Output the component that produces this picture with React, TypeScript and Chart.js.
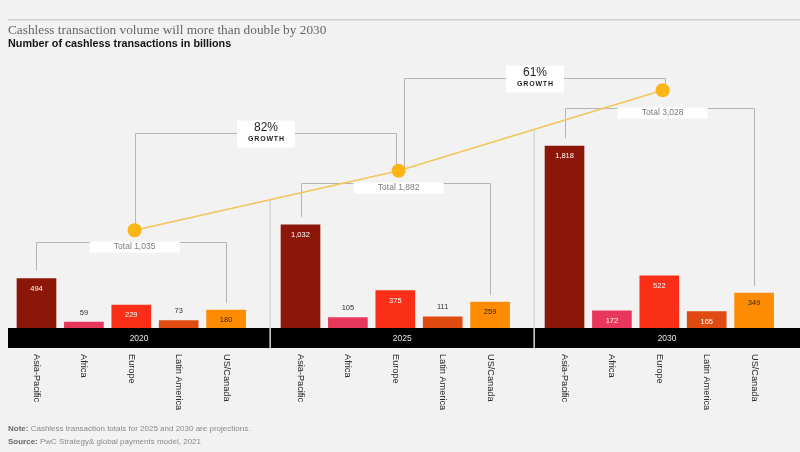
import React, { useEffect, useRef } from 'react';
import { Chart, registerables } from 'chart.js';

Chart.register(...registerables);

// ---- data ----
const years = ['2020', '2025', '2030'];
const regions = ['Asia-Pacific', 'Africa', 'Europe', 'Latin America', 'US/Canada'];
const asiaPacific = [494, 1032, 1818];
const africa = [59, 105, 172];
const europe = [229, 375, 522];
const latinAmerica = [73, 111, 165];
const usCanada = [180, 259, 349];
const totals = [1035, 1882, 3028];
const growthLabels = ['82%', '61%'];

const titleText = 'Cashless transaction volume will more than double by 2030';
const subtitleText = 'Number of cashless transactions in billions';
const noteLabel = 'Note:';
const noteText = ' Cashless transaction totals for 2025 and 2030 are projections.';
const sourceLabel = 'Source:';
const sourceText = ' PwC Strategy& global payments model, 2021';

// ---- styles ----
const regionSeries = [asiaPacific, africa, europe, latinAmerica, usCanada];
const regionColors = ['#8c1709', '#e8375c', '#fb2e17', '#df4b10', '#fd8c03'];
const insideLabelColors = ['#ffffff', '#ffffff', '#ffffff', '#ffffff', '#3b2500'];
const GROUP_STEP = 5.57;
const SEP_OFFSET = 4.93;
const TOTAL_GAP = [12, 12, 18];
const GROWTH_LIFT = [97, 93];
const BG = '#f2f2f2';
const RULE = '#b5b5b5';
const SANS = '"Liberation Sans", Arial, sans-serif';

const xOf = (g: number, i: number) => g * GROUP_STEP + i;
const fmt = (v: number) => v.toLocaleString('en-US');

const decor = {
  id: 'decor',
  beforeDraw(chart: any) {
    const { ctx, width, height } = chart;
    ctx.save();
    ctx.fillStyle = BG;
    ctx.fillRect(0, 0, width, height);
    ctx.restore();
  },
  beforeDatasetsDraw(chart: any) {
    const { ctx, scales } = chart;
    const xs = scales.x;
    const ys = scales.y;
    const pts = chart.getDatasetMeta(regions.length).data;
    ctx.save();

    // group separators, from the trend line down
    const lineYAt = (x: number) => {
      for (let k = 0; k < pts.length - 1; k++) {
        const a = pts[k], b = pts[k + 1];
        if (x >= a.x && x <= b.x) return a.y + ((x - a.x) / (b.x - a.x)) * (b.y - a.y);
      }
      return pts[0].y;
    };
    ctx.strokeStyle = '#d6d6d6';
    ctx.lineWidth = 1.5;
    for (let g = 0; g < years.length - 1; g++) {
      const sx = xs.getPixelForValue(g * GROUP_STEP + SEP_OFFSET);
      ctx.beginPath();
      ctx.moveTo(sx, lineYAt(sx));
      ctx.lineTo(sx, chart.chartArea.bottom);
      ctx.stroke();
    }

    ctx.strokeStyle = RULE;
    ctx.lineWidth = 1;
    // total brackets
    for (let g = 0; g < years.length; g++) {
      const dot = pts[g];
      const yb = Math.round(dot.y + TOTAL_GAP[g]) + 0.5;
      const xl = Math.round(xs.getPixelForValue(xOf(g, 0))) + 0.5;
      const xr = Math.round(xs.getPixelForValue(xOf(g, 4))) + 0.5;
      const apTop = ys.getPixelForValue(asiaPacific[g]) - 8;
      const usTop = ys.getPixelForValue(usCanada[g]) - 7;
      ctx.beginPath();
      ctx.moveTo(xl, apTop);
      ctx.lineTo(xl, yb);
      ctx.lineTo(xr, yb);
      ctx.lineTo(xr, usTop);
      ctx.stroke();
      ctx.fillStyle = '#ffffff';
      ctx.fillRect(dot.x - 45, yb - 1, 90, 11);
      ctx.fillStyle = '#7a7a7a';
      ctx.font = `8.5px ${SANS}`;
      ctx.textAlign = 'center';
      ctx.textBaseline = 'middle';
      ctx.fillText(`Total ${fmt(totals[g])}`, dot.x, yb + 4.5);
    }

    // growth brackets
    for (let p = 0; p < growthLabels.length; p++) {
      const a = pts[p], b = pts[p + 1];
      const top = Math.round(a.y - GROWTH_LIFT[p]) + 0.5;
      const lx = Math.round(a.x + (p ? 5 : 0)) + 0.5;
      const rx = Math.round(b.x + (p ? 2 : -3)) + 0.5;
      ctx.beginPath();
      ctx.moveTo(lx, a.y);
      ctx.lineTo(lx, top);
      ctx.lineTo(rx, top);
      ctx.lineTo(rx, b.y);
      ctx.stroke();
      const mid = (lx + rx) / 2;
      ctx.fillStyle = '#ffffff';
      ctx.fillRect(mid - 29, top - 13, 58, 27);
      ctx.fillStyle = '#1e1e1e';
      ctx.textAlign = 'center';
      ctx.textBaseline = 'middle';
      ctx.font = `12px ${SANS}`;
      ctx.fillText(growthLabels[p], mid, top - 5.5);
      ctx.font = `bold 7px ${SANS}`;
      (ctx as any).letterSpacing = '0.8px';
      ctx.fillText('GROWTH', mid + 0.4, top + 6);
      (ctx as any).letterSpacing = '0px';
    }
    ctx.restore();
  },
  afterDatasetsDraw(chart: any) {
    const { ctx, scales, chartArea, width } = chart;
    const xs = scales.x;
    const ys = scales.y;
    ctx.save();
    ctx.textAlign = 'center';
    ctx.textBaseline = 'middle';

    // value labels
    ctx.font = `7.5px ${SANS}`;
    regionSeries.forEach((series, i) => {
      series.forEach((v, g) => {
        const x = xs.getPixelForValue(xOf(g, i));
        const top = ys.getPixelForValue(v);
        if (v >= 150) {
          ctx.fillStyle = insideLabelColors[i];
          ctx.fillText(fmt(v), x, top + 10);
        } else {
          ctx.fillStyle = '#333333';
          ctx.fillText(fmt(v), x, top - 9.5);
        }
      });
    });

    // year band
    const bandTop = chartArea.bottom;
    const bandH = 20;
    ctx.fillStyle = '#000000';
    ctx.fillRect(chartArea.left, bandTop, chartArea.right - chartArea.left, bandH);
    const bounds = [chartArea.left];
    for (let g = 0; g < years.length - 1; g++) bounds.push(xs.getPixelForValue(g * GROUP_STEP + SEP_OFFSET));
    bounds.push(chartArea.right);
    ctx.strokeStyle = '#d6d6d6';
    ctx.lineWidth = 1.5;
    for (let k = 1; k < bounds.length - 1; k++) {
      ctx.beginPath();
      ctx.moveTo(bounds[k], bandTop);
      ctx.lineTo(bounds[k], bandTop + bandH);
      ctx.stroke();
    }
    ctx.fillStyle = '#e6e6e6';
    ctx.font = `8.5px ${SANS}`;
    years.forEach((y, g) => {
      ctx.fillText(y, (bounds[g] + bounds[g + 1]) / 2, bandTop + bandH / 2 + 0.5);
    });

    // rotated region labels
    ctx.fillStyle = '#2a2a2a';
    ctx.font = `9.2px ${SANS}`;
    ctx.textAlign = 'left';
    years.forEach((_, g) => {
      regions.forEach((r, i) => {
        const x = xs.getPixelForValue(xOf(g, i));
        ctx.save();
        ctx.translate(x, bandTop + bandH + 6);
        ctx.rotate(Math.PI / 2);
        ctx.fillText(r, 0, 0);
        ctx.restore();
      });
    });

    // top rule, title, subtitle
    ctx.fillStyle = '#cfcfcf';
    ctx.fillRect(8, 19, width - 8, 1.5);
    ctx.textAlign = 'left';
    ctx.fillStyle = '#666666';
    ctx.font = '13.3px "Liberation Serif", "Times New Roman", serif';
    ctx.fillText(titleText, 8, 31);
    ctx.fillStyle = '#151515';
    ctx.font = `bold 10.8px ${SANS}`;
    ctx.fillText(subtitleText, 8, 44.5);

    // footer
    const foot = (label: string, text: string, y: number) => {
      ctx.font = `bold 8px ${SANS}`;
      ctx.fillStyle = '#6a6a6a';
      ctx.fillText(label, 8, y);
      const w = ctx.measureText(label).width;
      ctx.font = `8px ${SANS}`;
      ctx.fillStyle = '#8a8a8a';
      ctx.fillText(text, 8 + w, y);
    };
    foot(noteLabel, noteText, 428.5);
    foot(sourceLabel, sourceText, 441.5);
    ctx.restore();
  },
};

export default function App() {
  const ref = useRef<HTMLCanvasElement | null>(null);
  useEffect(() => {
    if (!ref.current) return;
    const barSets = regions.map((r, i) => ({
      type: 'bar' as const,
      label: r,
      data: regionSeries[i].map((v, g) => ({ x: xOf(g, i), y: v })),
      backgroundColor: regionColors[i],
      borderWidth: 0,
      barThickness: 39,
      grouped: false,
      yAxisID: 'y',
      order: 2,
    }));
    const lineSet = {
      type: 'line' as const,
      label: 'Total',
      data: totals.map((v, g) => ({ x: xOf(g, 2) + 0.07, y: v })),
      borderColor: '#f3c55a',
      borderWidth: 1.6,
      pointRadius: 7,
      pointHoverRadius: 7,
      pointBackgroundColor: '#fbb514',
      pointBorderColor: '#fbb514',
      pointBorderWidth: 0,
      tension: 0,
      yAxisID: 'y2',
      order: 0,
      clip: false as any,
    };
    const chart = new Chart(ref.current, {
      type: 'bar',
      data: { datasets: [...barSets, lineSet] as any },
      options: {
        animation: false,
        responsive: false,
        maintainAspectRatio: false,
        layout: { autoPadding: false, padding: { left: 8, right: 0, top: 60, bottom: 124 } },
        plugins: { legend: { display: false }, tooltip: { enabled: false }, title: { display: false } },
        scales: {
          x: { type: 'linear', min: -0.601, max: 16.108, offset: false, display: false },
          y: { type: 'linear', min: 0, max: 2680, display: false },
          y2: { type: 'linear', min: -358, max: 3460, display: false, position: 'right' },
        },
      },
      plugins: [decor],
    });
    return () => chart.destroy();
  }, []);
  return (
    <div style={{ position: 'fixed', left: 0, top: 0, width: 800, height: 452, background: BG }}>
      <canvas ref={ref} width={800} height={452} style={{ display: 'block' }} />
    </div>
  );
}
